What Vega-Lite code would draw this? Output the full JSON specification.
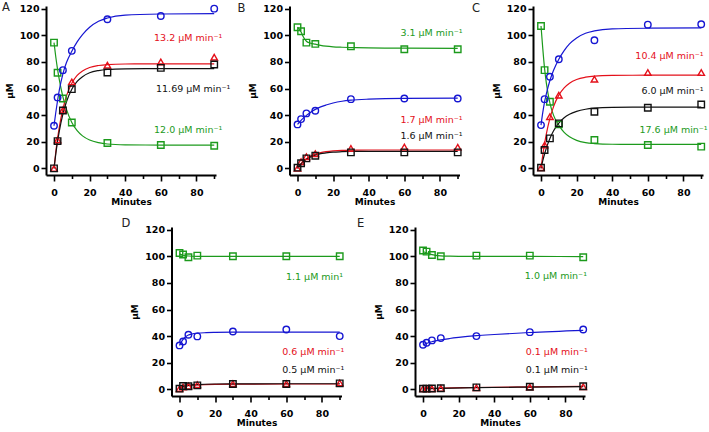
{
"$schema": "https://vega.github.io/schema/vega-lite/v6.json",
"background": "white",
"padding": {"left": 2, "top": 2, "right": 0, "bottom": 0},
"config": {
  "view": {"stroke": null},
  "font": "DejaVu Sans",
  "axis": {"domainColor": "black", "domainWidth": 2, "tickColor": "black", "tickWidth": 1.6, "grid": false,
    "labelFont": "DejaVu Sans", "labelFontWeight": "bold", "labelFontSize": 9.5, "labelColor": "black",
    "titleFont": "DejaVu Sans", "titleFontWeight": "bold", "titleFontSize": 9, "titleColor": "black"},
  "title": {"font": "DejaVu Sans", "fontWeight": "normal", "fontSize": 11.5, "color": "#222222", "anchor": "start", "frame": "group", "baseline": "alphabetic"}
},
"datasets": {
"pts": [
{"p":"A","s":"G","t":0,"v":94.5},{"p":"A","s":"G","t":2,"v":71.8},{"p":"A","s":"G","t":5,"v":52.5},{"p":"A","s":"G","t":10,"v":34.5},{"p":"A","s":"G","t":30,"v":19},{"p":"A","s":"G","t":60,"v":17.5},{"p":"A","s":"G","t":90,"v":17},
{"p":"A","s":"B","t":0,"v":32},{"p":"A","s":"B","t":2,"v":53.3},{"p":"A","s":"B","t":5,"v":73.8},{"p":"A","s":"B","t":10,"v":88.3},{"p":"A","s":"B","t":30,"v":112},{"p":"A","s":"B","t":60,"v":114.5},{"p":"A","s":"B","t":90,"v":120},
{"p":"A","s":"R","t":0,"v":0},{"p":"A","s":"R","t":2,"v":21.3},{"p":"A","s":"R","t":5,"v":43.8},{"p":"A","s":"R","t":10,"v":65},{"p":"A","s":"R","t":30,"v":77.5},{"p":"A","s":"R","t":60,"v":80},{"p":"A","s":"R","t":90,"v":83.5},
{"p":"A","s":"K","t":0,"v":0},{"p":"A","s":"K","t":2,"v":20.5},{"p":"A","s":"K","t":5,"v":43.5},{"p":"A","s":"K","t":10,"v":59.5},{"p":"A","s":"K","t":30,"v":72},{"p":"A","s":"K","t":60,"v":75.5},{"p":"A","s":"K","t":90,"v":78},
{"p":"B","s":"G","t":0,"v":106},{"p":"B","s":"G","t":2,"v":103},{"p":"B","s":"G","t":5,"v":94.5},{"p":"B","s":"G","t":10,"v":93.5},{"p":"B","s":"G","t":30,"v":91.8},{"p":"B","s":"G","t":60,"v":89.5},{"p":"B","s":"G","t":90,"v":89.5},
{"p":"B","s":"B","t":0,"v":33},{"p":"B","s":"B","t":2,"v":37},{"p":"B","s":"B","t":5,"v":41.3},{"p":"B","s":"B","t":10,"v":43.3},{"p":"B","s":"B","t":30,"v":52},{"p":"B","s":"B","t":60,"v":52.5},{"p":"B","s":"B","t":90,"v":52.5},
{"p":"B","s":"R","t":0,"v":0},{"p":"B","s":"R","t":2,"v":5},{"p":"B","s":"R","t":5,"v":8.8},{"p":"B","s":"R","t":10,"v":11},{"p":"B","s":"R","t":30,"v":15},{"p":"B","s":"R","t":60,"v":16},{"p":"B","s":"R","t":90,"v":15.8},
{"p":"B","s":"K","t":0,"v":0.5},{"p":"B","s":"K","t":2,"v":3.8},{"p":"B","s":"K","t":5,"v":7.5},{"p":"B","s":"K","t":10,"v":9.5},{"p":"B","s":"K","t":30,"v":12},{"p":"B","s":"K","t":60,"v":12},{"p":"B","s":"K","t":90,"v":12},
{"p":"C","s":"G","t":0,"v":107},{"p":"C","s":"G","t":2,"v":73.8},{"p":"C","s":"G","t":5,"v":50},{"p":"C","s":"G","t":10,"v":33},{"p":"C","s":"G","t":30,"v":21.3},{"p":"C","s":"G","t":60,"v":17.5},{"p":"C","s":"G","t":90,"v":16.3},
{"p":"C","s":"B","t":0,"v":32.5},{"p":"C","s":"B","t":2,"v":52},{"p":"C","s":"B","t":5,"v":68.8},{"p":"C","s":"B","t":10,"v":82},{"p":"C","s":"B","t":30,"v":96.3},{"p":"C","s":"B","t":60,"v":108},{"p":"C","s":"B","t":90,"v":108.3},
{"p":"C","s":"R","t":0,"v":0.5},{"p":"C","s":"R","t":2,"v":17.5},{"p":"C","s":"R","t":5,"v":38.8},{"p":"C","s":"R","t":10,"v":55},{"p":"C","s":"R","t":30,"v":67},{"p":"C","s":"R","t":60,"v":72},{"p":"C","s":"R","t":90,"v":72},
{"p":"C","s":"K","t":0,"v":0.5},{"p":"C","s":"K","t":2,"v":13.8},{"p":"C","s":"K","t":5,"v":22.5},{"p":"C","s":"K","t":10,"v":33.8},{"p":"C","s":"K","t":30,"v":42.5},{"p":"C","s":"K","t":60,"v":45.5},{"p":"C","s":"K","t":90,"v":48},
{"p":"D","s":"G","t":0,"v":102.5},{"p":"D","s":"G","t":2,"v":101.3},{"p":"D","s":"G","t":5,"v":99.3},{"p":"D","s":"G","t":10,"v":100.5},{"p":"D","s":"G","t":30,"v":100},{"p":"D","s":"G","t":60,"v":100},{"p":"D","s":"G","t":90,"v":100},
{"p":"D","s":"B","t":0,"v":33},{"p":"D","s":"B","t":2,"v":36},{"p":"D","s":"B","t":5,"v":41},{"p":"D","s":"B","t":10,"v":39.8},{"p":"D","s":"B","t":30,"v":43.5},{"p":"D","s":"B","t":60,"v":45},{"p":"D","s":"B","t":90,"v":40},
{"p":"D","s":"R","t":0,"v":0.5},{"p":"D","s":"R","t":2,"v":1.8},{"p":"D","s":"R","t":5,"v":2.5},{"p":"D","s":"R","t":10,"v":3.5},{"p":"D","s":"R","t":30,"v":4.3},{"p":"D","s":"R","t":60,"v":4.3},{"p":"D","s":"R","t":90,"v":4.8},
{"p":"D","s":"K","t":0,"v":0.5},{"p":"D","s":"K","t":2,"v":2.5},{"p":"D","s":"K","t":5,"v":2.3},{"p":"D","s":"K","t":10,"v":3},{"p":"D","s":"K","t":30,"v":4},{"p":"D","s":"K","t":60,"v":4},{"p":"D","s":"K","t":90,"v":4.5},
{"p":"E","s":"G","t":0,"v":104.3},{"p":"E","s":"G","t":2,"v":103.5},{"p":"E","s":"G","t":5,"v":101},{"p":"E","s":"G","t":10,"v":100},{"p":"E","s":"G","t":30,"v":100.5},{"p":"E","s":"G","t":60,"v":100.5},{"p":"E","s":"G","t":90,"v":99.3},
{"p":"E","s":"B","t":0,"v":33.5},{"p":"E","s":"B","t":2,"v":35},{"p":"E","s":"B","t":5,"v":36.8},{"p":"E","s":"B","t":10,"v":38.5},{"p":"E","s":"B","t":30,"v":40},{"p":"E","s":"B","t":60,"v":43},{"p":"E","s":"B","t":90,"v":45},
{"p":"E","s":"R","t":0,"v":0.5},{"p":"E","s":"R","t":2,"v":0.5},{"p":"E","s":"R","t":5,"v":0.5},{"p":"E","s":"R","t":10,"v":0.8},{"p":"E","s":"R","t":30,"v":1.2},{"p":"E","s":"R","t":60,"v":1.8},{"p":"E","s":"R","t":90,"v":2},
{"p":"E","s":"K","t":0,"v":0.5},{"p":"E","s":"K","t":2,"v":0.5},{"p":"E","s":"K","t":5,"v":0.6},{"p":"E","s":"K","t":10,"v":0.8},{"p":"E","s":"K","t":30,"v":1.5},{"p":"E","s":"K","t":60,"v":2},{"p":"E","s":"K","t":90,"v":2.3}
],
"fit": [
{"p":"A","s":"G","t":0,"v":94.5},{"p":"A","s":"G","t":1,"v":83.7},{"p":"A","s":"G","t":2,"v":74.4},{"p":"A","s":"G","t":3,"v":66.5},{"p":"A","s":"G","t":5,"v":53.7},{"p":"A","s":"G","t":7,"v":44.3},{"p":"A","s":"G","t":10,"v":34.5},{"p":"A","s":"G","t":13,"v":28.3},{"p":"A","s":"G","t":16,"v":24.4},{"p":"A","s":"G","t":20,"v":21.3},{"p":"A","s":"G","t":25,"v":19.3},{"p":"A","s":"G","t":30,"v":18.3},{"p":"A","s":"G","t":40,"v":17.7},{"p":"A","s":"G","t":60,"v":17.5},{"p":"A","s":"G","t":90,"v":17.5},
{"p":"A","s":"B","t":0,"v":32},{"p":"A","s":"B","t":1,"v":42},{"p":"A","s":"B","t":2,"v":51},{"p":"A","s":"B","t":3,"v":59},{"p":"A","s":"B","t":5,"v":71},{"p":"A","s":"B","t":7,"v":79.5},{"p":"A","s":"B","t":10,"v":88},{"p":"A","s":"B","t":13,"v":95},{"p":"A","s":"B","t":16,"v":100.5},{"p":"A","s":"B","t":20,"v":106},{"p":"A","s":"B","t":25,"v":110.5},{"p":"A","s":"B","t":30,"v":113},{"p":"A","s":"B","t":40,"v":115.2},{"p":"A","s":"B","t":60,"v":116},{"p":"A","s":"B","t":90,"v":116.3},
{"p":"A","s":"R","t":0,"v":0},{"p":"A","s":"R","t":1,"v":12.2},{"p":"A","s":"R","t":2,"v":22.5},{"p":"A","s":"R","t":3,"v":31.2},{"p":"A","s":"R","t":5,"v":44.7},{"p":"A","s":"R","t":7,"v":54.5},{"p":"A","s":"R","t":10,"v":64},{"p":"A","s":"R","t":13,"v":69.8},{"p":"A","s":"R","t":16,"v":73.2},{"p":"A","s":"R","t":20,"v":75.8},{"p":"A","s":"R","t":25,"v":77.3},{"p":"A","s":"R","t":30,"v":78},{"p":"A","s":"R","t":40,"v":78.4},{"p":"A","s":"R","t":60,"v":78.5},{"p":"A","s":"R","t":90,"v":78.5},
{"p":"A","s":"K","t":0,"v":0},{"p":"A","s":"K","t":1,"v":10.9},{"p":"A","s":"K","t":2,"v":20.2},{"p":"A","s":"K","t":3,"v":28.2},{"p":"A","s":"K","t":5,"v":40.8},{"p":"A","s":"K","t":7,"v":50},{"p":"A","s":"K","t":10,"v":59.4},{"p":"A","s":"K","t":13,"v":65.3},{"p":"A","s":"K","t":16,"v":68.9},{"p":"A","s":"K","t":20,"v":71.8},{"p":"A","s":"K","t":25,"v":73.5},{"p":"A","s":"K","t":30,"v":74.3},{"p":"A","s":"K","t":40,"v":74.8},{"p":"A","s":"K","t":60,"v":75},{"p":"A","s":"K","t":90,"v":75},
{"p":"B","s":"G","t":0,"v":106},{"p":"B","s":"G","t":1,"v":104.5},{"p":"B","s":"G","t":2,"v":102.5},{"p":"B","s":"G","t":3,"v":99.5},{"p":"B","s":"G","t":5,"v":95.5},{"p":"B","s":"G","t":7,"v":94.2},{"p":"B","s":"G","t":10,"v":93.3},{"p":"B","s":"G","t":13,"v":92.4},{"p":"B","s":"G","t":16,"v":91.8},{"p":"B","s":"G","t":20,"v":91.3},{"p":"B","s":"G","t":25,"v":91},{"p":"B","s":"G","t":30,"v":90.8},{"p":"B","s":"G","t":40,"v":90.5},{"p":"B","s":"G","t":60,"v":90.3},{"p":"B","s":"G","t":90,"v":90.2},
{"p":"B","s":"B","t":0,"v":33},{"p":"B","s":"B","t":1,"v":34.6},{"p":"B","s":"B","t":2,"v":36.1},{"p":"B","s":"B","t":3,"v":37.4},{"p":"B","s":"B","t":5,"v":39.8},{"p":"B","s":"B","t":7,"v":41.8},{"p":"B","s":"B","t":10,"v":44.3},{"p":"B","s":"B","t":13,"v":46.2},{"p":"B","s":"B","t":16,"v":47.6},{"p":"B","s":"B","t":20,"v":49.1},{"p":"B","s":"B","t":25,"v":50.4},{"p":"B","s":"B","t":30,"v":51.2},{"p":"B","s":"B","t":40,"v":52},{"p":"B","s":"B","t":60,"v":52.6},{"p":"B","s":"B","t":90,"v":52.7},
{"p":"B","s":"R","t":0,"v":0},{"p":"B","s":"R","t":1,"v":1.9},{"p":"B","s":"R","t":2,"v":3.6},{"p":"B","s":"R","t":3,"v":5},{"p":"B","s":"R","t":5,"v":7.3},{"p":"B","s":"R","t":7,"v":9},{"p":"B","s":"R","t":10,"v":10.7},{"p":"B","s":"R","t":13,"v":11.8},{"p":"B","s":"R","t":16,"v":12.5},{"p":"B","s":"R","t":20,"v":13.1},{"p":"B","s":"R","t":25,"v":13.5},{"p":"B","s":"R","t":30,"v":13.6},{"p":"B","s":"R","t":40,"v":13.8},{"p":"B","s":"R","t":90,"v":13.8},
{"p":"B","s":"K","t":0,"v":0},{"p":"B","s":"K","t":1,"v":1.8},{"p":"B","s":"K","t":2,"v":3.3},{"p":"B","s":"K","t":3,"v":4.6},{"p":"B","s":"K","t":5,"v":6.8},{"p":"B","s":"K","t":7,"v":8.3},{"p":"B","s":"K","t":10,"v":9.9},{"p":"B","s":"K","t":13,"v":11},{"p":"B","s":"K","t":16,"v":11.6},{"p":"B","s":"K","t":20,"v":12.2},{"p":"B","s":"K","t":25,"v":12.5},{"p":"B","s":"K","t":30,"v":12.7},{"p":"B","s":"K","t":40,"v":12.8},{"p":"B","s":"K","t":90,"v":12.8},
{"p":"C","s":"G","t":0,"v":107},{"p":"C","s":"G","t":1,"v":90},{"p":"C","s":"G","t":2,"v":75},{"p":"C","s":"G","t":3,"v":64},{"p":"C","s":"G","t":5,"v":49},{"p":"C","s":"G","t":7,"v":40},{"p":"C","s":"G","t":10,"v":32.5},{"p":"C","s":"G","t":13,"v":27},{"p":"C","s":"G","t":16,"v":23.7},{"p":"C","s":"G","t":20,"v":21},{"p":"C","s":"G","t":25,"v":19.3},{"p":"C","s":"G","t":30,"v":18.6},{"p":"C","s":"G","t":40,"v":18.1},{"p":"C","s":"G","t":60,"v":18},{"p":"C","s":"G","t":90,"v":18},
{"p":"C","s":"B","t":0,"v":32.5},{"p":"C","s":"B","t":1,"v":42},{"p":"C","s":"B","t":2,"v":50},{"p":"C","s":"B","t":3,"v":56},{"p":"C","s":"B","t":5,"v":66},{"p":"C","s":"B","t":7,"v":73.5},{"p":"C","s":"B","t":10,"v":82},{"p":"C","s":"B","t":13,"v":88.5},{"p":"C","s":"B","t":16,"v":93.5},{"p":"C","s":"B","t":20,"v":98},{"p":"C","s":"B","t":25,"v":101.5},{"p":"C","s":"B","t":30,"v":103.3},{"p":"C","s":"B","t":40,"v":104.8},{"p":"C","s":"B","t":60,"v":105.3},{"p":"C","s":"B","t":90,"v":105.5},
{"p":"C","s":"R","t":0,"v":0},{"p":"C","s":"R","t":1,"v":10},{"p":"C","s":"R","t":2,"v":18.5},{"p":"C","s":"R","t":3,"v":25.9},{"p":"C","s":"R","t":5,"v":37.6},{"p":"C","s":"R","t":7,"v":46.2},{"p":"C","s":"R","t":10,"v":55},{"p":"C","s":"R","t":13,"v":60.5},{"p":"C","s":"R","t":16,"v":64},{"p":"C","s":"R","t":20,"v":66.8},{"p":"C","s":"R","t":25,"v":68.5},{"p":"C","s":"R","t":30,"v":69.3},{"p":"C","s":"R","t":40,"v":69.8},{"p":"C","s":"R","t":60,"v":70},{"p":"C","s":"R","t":90,"v":70},
{"p":"C","s":"K","t":0,"v":0},{"p":"C","s":"K","t":1,"v":5.8},{"p":"C","s":"K","t":2,"v":10.8},{"p":"C","s":"K","t":3,"v":15.2},{"p":"C","s":"K","t":5,"v":22.4},{"p":"C","s":"K","t":7,"v":28},{"p":"C","s":"K","t":10,"v":33.9},{"p":"C","s":"K","t":13,"v":38},{"p":"C","s":"K","t":16,"v":40.6},{"p":"C","s":"K","t":20,"v":42.8},{"p":"C","s":"K","t":25,"v":44.4},{"p":"C","s":"K","t":30,"v":45.2},{"p":"C","s":"K","t":40,"v":45.8},{"p":"C","s":"K","t":60,"v":46},{"p":"C","s":"K","t":90,"v":46},
{"p":"D","s":"G","t":0,"v":101.8},{"p":"D","s":"G","t":1,"v":101.2},{"p":"D","s":"G","t":2,"v":100.8},{"p":"D","s":"G","t":3,"v":100.5},{"p":"D","s":"G","t":5,"v":100.2},{"p":"D","s":"G","t":10,"v":100},{"p":"D","s":"G","t":30,"v":100},{"p":"D","s":"G","t":60,"v":100},{"p":"D","s":"G","t":90,"v":100},
{"p":"D","s":"B","t":0,"v":33},{"p":"D","s":"B","t":1,"v":35.5},{"p":"D","s":"B","t":2,"v":37.5},{"p":"D","s":"B","t":3,"v":39},{"p":"D","s":"B","t":5,"v":40.8},{"p":"D","s":"B","t":7,"v":41.6},{"p":"D","s":"B","t":10,"v":42.2},{"p":"D","s":"B","t":15,"v":42.6},{"p":"D","s":"B","t":20,"v":42.8},{"p":"D","s":"B","t":30,"v":43},{"p":"D","s":"B","t":60,"v":43},{"p":"D","s":"B","t":90,"v":43},
{"p":"D","s":"R","t":0,"v":0.3},{"p":"D","s":"R","t":2,"v":1.8},{"p":"D","s":"R","t":5,"v":2.8},{"p":"D","s":"R","t":10,"v":3.4},{"p":"D","s":"R","t":20,"v":3.8},{"p":"D","s":"R","t":30,"v":3.9},{"p":"D","s":"R","t":60,"v":4},{"p":"D","s":"R","t":90,"v":4},
{"p":"D","s":"K","t":0,"v":0.8},{"p":"D","s":"K","t":2,"v":2.2},{"p":"D","s":"K","t":5,"v":3},{"p":"D","s":"K","t":10,"v":3.6},{"p":"D","s":"K","t":20,"v":4},{"p":"D","s":"K","t":30,"v":4.1},{"p":"D","s":"K","t":60,"v":4.2},{"p":"D","s":"K","t":90,"v":4.2},
{"p":"E","s":"G","t":0,"v":103.5},{"p":"E","s":"G","t":1,"v":103},{"p":"E","s":"G","t":2,"v":102.5},{"p":"E","s":"G","t":3,"v":102},{"p":"E","s":"G","t":5,"v":101.2},{"p":"E","s":"G","t":7,"v":100.7},{"p":"E","s":"G","t":10,"v":100.3},{"p":"E","s":"G","t":15,"v":100.1},{"p":"E","s":"G","t":20,"v":100},{"p":"E","s":"G","t":30,"v":100},{"p":"E","s":"G","t":60,"v":99.9},{"p":"E","s":"G","t":90,"v":99.8},
{"p":"E","s":"B","t":0,"v":33.5},{"p":"E","s":"B","t":1,"v":34},{"p":"E","s":"B","t":2,"v":34.5},{"p":"E","s":"B","t":3,"v":35},{"p":"E","s":"B","t":5,"v":35.8},{"p":"E","s":"B","t":7,"v":36.4},{"p":"E","s":"B","t":10,"v":37.2},{"p":"E","s":"B","t":15,"v":38.2},{"p":"E","s":"B","t":20,"v":39},{"p":"E","s":"B","t":30,"v":40.3},{"p":"E","s":"B","t":40,"v":41.2},{"p":"E","s":"B","t":60,"v":42.7},{"p":"E","s":"B","t":90,"v":44.3},
{"p":"E","s":"R","t":0,"v":0.6},{"p":"E","s":"R","t":5,"v":0.7},{"p":"E","s":"R","t":10,"v":0.9},{"p":"E","s":"R","t":30,"v":1.4},{"p":"E","s":"R","t":60,"v":1.9},{"p":"E","s":"R","t":90,"v":2.2},
{"p":"E","s":"K","t":0,"v":0.5},{"p":"E","s":"K","t":5,"v":0.6},{"p":"E","s":"K","t":10,"v":0.8},{"p":"E","s":"K","t":30,"v":1.3},{"p":"E","s":"K","t":60,"v":1.7},{"p":"E","s":"K","t":90,"v":2}
],
"lab": [
{"p":"A","s":"R","t":94.5,"v":98,"text":"13.2 µM min⁻¹"},
{"p":"A","s":"K","t":99,"v":59.5,"text":"11.69 µM min⁻¹"},
{"p":"A","s":"G","t":94.5,"v":28.8,"text":"12.0 µM min⁻¹"},
{"p":"B","s":"G","t":92.7,"v":102,"text":"3.1 µM min⁻¹"},
{"p":"B","s":"R","t":92.7,"v":36.3,"text":"1.7 µM min⁻¹"},
{"p":"B","s":"K","t":92.7,"v":24.3,"text":"1.6 µM min⁻¹"},
{"p":"C","s":"R","t":91.3,"v":84.5,"text":"10.4 µM min⁻¹"},
{"p":"C","s":"K","t":91.3,"v":58,"text":"6.0 µM min⁻¹"},
{"p":"C","s":"G","t":93.6,"v":28.8,"text":"17.6 µM min⁻¹"},
{"p":"D","s":"G","t":91.9,"v":84.3,"text":"1.1 µM min¹"},
{"p":"D","s":"R","t":92.6,"v":28,"text":"0.6 µM min⁻¹"},
{"p":"D","s":"K","t":92.6,"v":14.3,"text":"0.5 µM min⁻¹"},
{"p":"E","s":"G","t":92.1,"v":85.5,"text":"1.0 µM min⁻¹"},
{"p":"E","s":"R","t":92.6,"v":28,"text":"0.1 µM min⁻¹"},
{"p":"E","s":"K","t":92.6,"v":14.8,"text":"0.1 µM min⁻¹"}
]
},
"spacing": 11,
"vconcat": [
{"bounds": "flush", "spacing": 73.5, "hconcat": [
{"width": 170, "height": 169, "title": {"text": "A", "dx": -44, "offset": -11},
 "encoding": {
  "x": {"field": "t", "type": "quantitative", "title": "Minutes", "scale": {"domain": [-4.5, 91], "nice": false, "zero": false}, "axis": {"values": [0,10,20,30,40,50,60,70,80,90], "labelExpr": "datum.value % 20 === 0 ? datum.label : ''", "labelOverlap": false, "tickSize": {"condition": {"test": "datum.value % 20 !== 0", "value": 3.5}, "value": 6}, "labelPadding": 6, "titlePadding": 1}},
  "y": {"field": "v", "type": "quantitative", "title": "µM", "scale": {"domain": [-5, 122], "nice": false, "zero": false}, "axis": {"values": [0,20,40,60,80,100,120], "tickSize": 5, "labelPadding": 2, "titlePadding": 5}},
  "color": {"field": "s", "type": "nominal", "legend": null, "scale": {"domain": ["G","B","R","K"], "range": ["#1c9a1c","#1616d2","#e4101a","#111111"]}}
 },
 "layer": [
  {"data": {"name": "fit"}, "transform": [{"filter": "datum.p === 'A'"}], "mark": {"type": "line", "strokeWidth": 1.2, "interpolate": "monotone"}, "encoding": {"detail": {"field": "s"}}},
  {"data": {"name": "pts"}, "transform": [{"filter": "datum.p === 'A'"}], "mark": {"type": "point", "filled": false, "strokeWidth": 1.4, "size": 42, "opacity": 1}, "encoding": {"shape": {"field": "s", "type": "nominal", "legend": null, "scale": {"domain": ["G","B","R","K"], "range": ["square","circle","triangle-up","square"]}}}},
  {"data": {"name": "lab"}, "transform": [{"filter": "datum.p === 'A'"}], "mark": {"type": "text", "align": "right", "baseline": "middle", "fontSize": 9.5, "font": "DejaVu Sans"}, "encoding": {"text": {"field": "text"}}}
 ]},
{"width": 170, "height": 169, "title": {"text": "B", "dx": -52, "offset": -11},
 "encoding": {
  "x": {"field": "t", "type": "quantitative", "title": "Minutes", "scale": {"domain": [-4.5, 91], "nice": false, "zero": false}, "axis": {"values": [0,10,20,30,40,50,60,70,80,90], "labelExpr": "datum.value % 20 === 0 ? datum.label : ''", "labelOverlap": false, "tickSize": {"condition": {"test": "datum.value % 20 !== 0", "value": 3.5}, "value": 6}, "labelPadding": 6, "titlePadding": 1}},
  "y": {"field": "v", "type": "quantitative", "title": "µM", "scale": {"domain": [-5, 122], "nice": false, "zero": false}, "axis": {"values": [0,20,40,60,80,100,120], "tickSize": 5, "labelPadding": 2, "titlePadding": 5}},
  "color": {"field": "s", "type": "nominal", "legend": null, "scale": {"domain": ["G","B","R","K"], "range": ["#1c9a1c","#1616d2","#e4101a","#111111"]}}
 },
 "layer": [
  {"data": {"name": "fit"}, "transform": [{"filter": "datum.p === 'B'"}], "mark": {"type": "line", "strokeWidth": 1.2, "interpolate": "monotone"}, "encoding": {"detail": {"field": "s"}}},
  {"data": {"name": "pts"}, "transform": [{"filter": "datum.p === 'B'"}], "mark": {"type": "point", "filled": false, "strokeWidth": 1.4, "size": 42, "opacity": 1}, "encoding": {"shape": {"field": "s", "type": "nominal", "legend": null, "scale": {"domain": ["G","B","R","K"], "range": ["square","circle","triangle-up","square"]}}}},
  {"data": {"name": "lab"}, "transform": [{"filter": "datum.p === 'B'"}], "mark": {"type": "text", "align": "right", "baseline": "middle", "fontSize": 9.5, "font": "DejaVu Sans"}, "encoding": {"text": {"field": "text"}}}
 ]},
{"width": 170, "height": 169, "title": {"text": "C", "dx": -61, "offset": -11},
 "encoding": {
  "x": {"field": "t", "type": "quantitative", "title": "Minutes", "scale": {"domain": [-4.5, 91], "nice": false, "zero": false}, "axis": {"values": [0,10,20,30,40,50,60,70,80,90], "labelExpr": "datum.value % 20 === 0 ? datum.label : ''", "labelOverlap": false, "tickSize": {"condition": {"test": "datum.value % 20 !== 0", "value": 3.5}, "value": 6}, "labelPadding": 6, "titlePadding": 1}},
  "y": {"field": "v", "type": "quantitative", "title": "µM", "scale": {"domain": [-5, 122], "nice": false, "zero": false}, "axis": {"values": [0,20,40,60,80,100,120], "tickSize": 5, "labelPadding": 2, "titlePadding": 5}},
  "color": {"field": "s", "type": "nominal", "legend": null, "scale": {"domain": ["G","B","R","K"], "range": ["#1c9a1c","#1616d2","#e4101a","#111111"]}}
 },
 "layer": [
  {"data": {"name": "fit"}, "transform": [{"filter": "datum.p === 'C'"}], "mark": {"type": "line", "strokeWidth": 1.2, "interpolate": "monotone"}, "encoding": {"detail": {"field": "s"}}},
  {"data": {"name": "pts"}, "transform": [{"filter": "datum.p === 'C'"}], "mark": {"type": "point", "filled": false, "strokeWidth": 1.4, "size": 42, "opacity": 1}, "encoding": {"shape": {"field": "s", "type": "nominal", "legend": null, "scale": {"domain": ["G","B","R","K"], "range": ["square","circle","triangle-up","square"]}}}},
  {"data": {"name": "lab"}, "transform": [{"filter": "datum.p === 'C'"}], "mark": {"type": "text", "align": "right", "baseline": "middle", "fontSize": 9.5, "font": "DejaVu Sans"}, "encoding": {"text": {"field": "text"}}}
 ]}
]},
{"bounds": "flush", "spacing": 73.5, "hconcat": [
{"width": 52, "height": 169, "data": {"values": []}, "mark": "point"},
{"width": 170, "height": 169, "title": {"text": "D", "dx": -50, "offset": -5},
 "encoding": {
  "x": {"field": "t", "type": "quantitative", "title": "Minutes", "scale": {"domain": [-4.5, 91], "nice": false, "zero": false}, "axis": {"values": [0,10,20,30,40,50,60,70,80,90], "labelExpr": "datum.value % 20 === 0 ? datum.label : ''", "labelOverlap": false, "tickSize": {"condition": {"test": "datum.value % 20 !== 0", "value": 3.5}, "value": 6}, "labelPadding": 6, "titlePadding": 1}},
  "y": {"field": "v", "type": "quantitative", "title": "µM", "scale": {"domain": [-5, 122], "nice": false, "zero": false}, "axis": {"values": [0,20,40,60,80,100,120], "tickSize": 5, "labelPadding": 2, "titlePadding": 5}},
  "color": {"field": "s", "type": "nominal", "legend": null, "scale": {"domain": ["G","B","R","K"], "range": ["#1c9a1c","#1616d2","#e4101a","#111111"]}}
 },
 "layer": [
  {"data": {"name": "fit"}, "transform": [{"filter": "datum.p === 'D'"}], "mark": {"type": "line", "strokeWidth": 1.2, "interpolate": "monotone"}, "encoding": {"detail": {"field": "s"}}},
  {"data": {"name": "pts"}, "transform": [{"filter": "datum.p === 'D'"}], "mark": {"type": "point", "filled": false, "strokeWidth": 1.4, "size": 42, "opacity": 1}, "encoding": {"shape": {"field": "s", "type": "nominal", "legend": null, "scale": {"domain": ["G","B","R","K"], "range": ["square","circle","triangle-up","square"]}}}},
  {"data": {"name": "lab"}, "transform": [{"filter": "datum.p === 'D'"}], "mark": {"type": "text", "align": "right", "baseline": "middle", "fontSize": 9.5, "font": "DejaVu Sans"}, "encoding": {"text": {"field": "text"}}}
 ]},
{"width": 170, "height": 169, "title": {"text": "E", "dx": -58, "offset": -5},
 "encoding": {
  "x": {"field": "t", "type": "quantitative", "title": "Minutes", "scale": {"domain": [-4.5, 91], "nice": false, "zero": false}, "axis": {"values": [0,10,20,30,40,50,60,70,80,90], "labelExpr": "datum.value % 20 === 0 ? datum.label : ''", "labelOverlap": false, "tickSize": {"condition": {"test": "datum.value % 20 !== 0", "value": 3.5}, "value": 6}, "labelPadding": 6, "titlePadding": 1}},
  "y": {"field": "v", "type": "quantitative", "title": "µM", "scale": {"domain": [-5, 122], "nice": false, "zero": false}, "axis": {"values": [0,20,40,60,80,100,120], "tickSize": 5, "labelPadding": 2, "titlePadding": 5}},
  "color": {"field": "s", "type": "nominal", "legend": null, "scale": {"domain": ["G","B","R","K"], "range": ["#1c9a1c","#1616d2","#e4101a","#111111"]}}
 },
 "layer": [
  {"data": {"name": "fit"}, "transform": [{"filter": "datum.p === 'E'"}], "mark": {"type": "line", "strokeWidth": 1.2, "interpolate": "monotone"}, "encoding": {"detail": {"field": "s"}}},
  {"data": {"name": "pts"}, "transform": [{"filter": "datum.p === 'E'"}], "mark": {"type": "point", "filled": false, "strokeWidth": 1.4, "size": 42, "opacity": 1}, "encoding": {"shape": {"field": "s", "type": "nominal", "legend": null, "scale": {"domain": ["G","B","R","K"], "range": ["square","circle","triangle-up","square"]}}}},
  {"data": {"name": "lab"}, "transform": [{"filter": "datum.p === 'E'"}], "mark": {"type": "text", "align": "right", "baseline": "middle", "fontSize": 9.5, "font": "DejaVu Sans"}, "encoding": {"text": {"field": "text"}}}
 ]}
]}
]
}
